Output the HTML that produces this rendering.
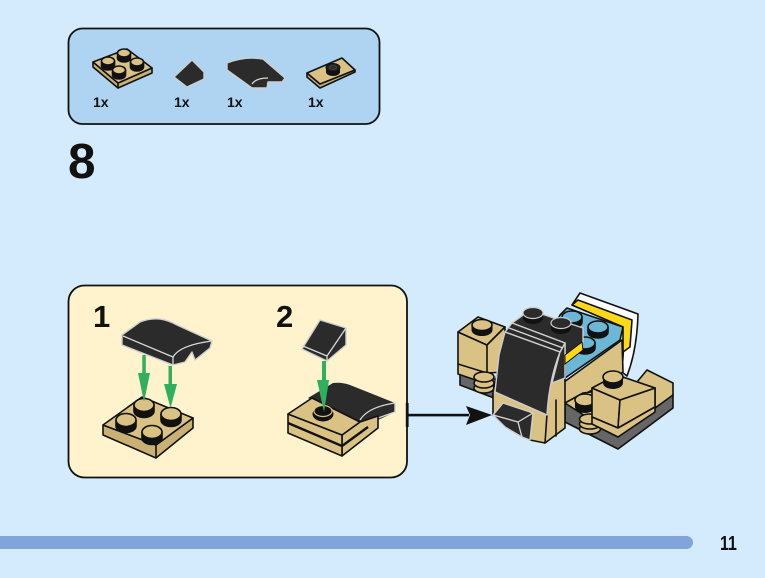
<!DOCTYPE html>
<html><head><meta charset="utf-8"><style>
html,body{margin:0;padding:0;background:#d3ebfd}
svg{display:block}
text{font-family:"Liberation Sans",sans-serif;font-weight:bold;fill:#111}
.k{stroke:#111;stroke-width:1.600;stroke-linejoin:round;stroke-linecap:round}
.t{fill:#d9c283}.d{fill:#c9b173}.b{fill:#2b2b2b}
.w{fill:none;stroke:#d8d8d8;stroke-width:1.300;stroke-linejoin:round}
.o{stroke:#cfcfcf;stroke-width:1.400;stroke-linejoin:round}
</style></head><body>
<svg width="765" height="578" viewBox="0 0 765 578" xmlns="http://www.w3.org/2000/svg">
<rect width="765" height="578" fill="#d3ebfd"/>
<!-- parts panel -->
<rect x="68.500" y="28.500" width="311" height="95.500" rx="14" fill="#aed4f2" stroke="#111" stroke-width="1.800"/>
<!-- part 1 -->
<polygon class="k d" points="93,62 118,83 152,68 152,73 118,88 93,67"/>
<polygon class="k t" points="93,62 127,49 152,68 118,83"/>
<line class="k" x1="118" y1="83" x2="118" y2="88"/>
<g class="k">
<path d="M101.500 61v5a6.500 4 0 0 0 13 0v-5z" fill="#111"/><ellipse cx="108" cy="61" rx="6.500" ry="4" class="t"/>
<path d="M117.500 53v5a6.500 4 0 0 0 13 0v-5z" fill="#111"/><ellipse cx="124" cy="53" rx="6.500" ry="4" class="t"/>
<path d="M130.500 62v5a6.500 4 0 0 0 13 0v-5z" fill="#111"/><ellipse cx="137" cy="62" rx="6.500" ry="4" class="t"/>
<path d="M112.500 70v5a6.500 4 0 0 0 13 0v-5z" fill="#111"/><ellipse cx="119" cy="70" rx="6.500" ry="4" class="t"/>
</g>
<!-- part 2 -->
<polygon class="b o" points="174,77 192,60 204,72 204,79 187,87"/>
<!-- part 3 -->
<path class="b o" d="M227 63Q245 56 263 59L285 78L282 82L268 82L267 88L252 88L227 70Z"/>
<path class="w" d="M252 84Q256 78 268 78"/>
<!-- part 4 -->
<polygon class="k d" points="307,73 320,84 355,70 355,72 320,88 307,77"/>
<polygon class="k t" points="307,73 342,58 355,70 320,84"/>
<path d="M326 68v4a7 4 0 0 0 14 0v-4z" fill="#111"/><ellipse cx="333" cy="67.500" rx="7" ry="4" fill="#222" stroke="#111"/><ellipse cx="333" cy="67.500" rx="3.500" ry="2" fill="#2b2b2b" stroke="#555" stroke-width=".6"/>
<text x="93" y="107" font-size="14">1x</text>
<text x="174" y="107" font-size="14">1x</text>
<text x="227" y="107" font-size="14">1x</text>
<text x="308" y="107" font-size="14">1x</text>
<text x="68" y="178" font-size="49.500">8</text>

<!-- step panel -->
<rect x="68.500" y="285.500" width="338.500" height="192" rx="16" fill="#fff3ce" stroke="#111" stroke-width="1.800"/>
<text x="93" y="327" font-size="31">1</text>
<text x="276" y="327" font-size="31">2</text>

<!-- step 1 plate -->
<polygon class="k d" points="103,425 156,445 193,418 193,428 156,458 103,435"/>
<polygon class="k t" points="103,425 142,397 193,418 156,445"/>
<line class="k" x1="156" y1="445" x2="156" y2="458"/>
<g class="k">
<path d="M134 405v6a10 6.500 0 0 0 20 0v-6z" fill="#111"/><ellipse cx="144" cy="405" rx="10" ry="6.500" class="t"/>
<path d="M161 414v6a10 6.500 0 0 0 20 0v-6z" fill="#111"/><ellipse cx="171" cy="414" rx="10" ry="6.500" class="t"/>
<path d="M116 420v6a10 6.500 0 0 0 20 0v-6z" fill="#111"/><ellipse cx="126" cy="420" rx="10" ry="6.500" class="t"/>
<path d="M142 432v6a10 6.500 0 0 0 20 0v-6z" fill="#111"/><ellipse cx="152" cy="432" rx="10" ry="6.500" class="t"/>
</g>
<!-- step 1 black part -->
<path class="b o" d="M122 335L140 322Q150 318 160 319Q168 320 177 325L212 341L210 348L195 360L192 352L185 362L173 365L122 345Z"/>
<path class="w" d="M123 336L173 357L173 365M173 357Q180 345 212 341"/>
<!-- arrows 1 -->
<g fill="#2fb05f">
<rect x="142.300" y="355" width="3.500" height="22"/><polygon points="138,373 150,373 144,402 "/>
<rect x="168.500" y="366" width="3.500" height="24"/><polygon points="164,384 177,384 170.500,408"/>
</g>

<!-- step 2 base -->
<path class="b" d="M308 398L333 383Q342 382 350 385L395 403L395 412L378 420L360 425Z"/>
<path class="w" d="M360 420Q368 407 395 403L395 412L378 418"/>
<polygon class="k t" points="360,422 378,416 378,428 342,456 342,435"/>
<polygon class="k t" points="288,414 342,435 342,456 288,433"/>
<polygon class="k t" points="288,414 312,398 360,422 342,435"/>
<path d="M288 423L342 446L368 427" fill="none" stroke="#111" stroke-width="2.400"/>
<ellipse cx="323" cy="414" rx="10.500" ry="7.500" fill="#111"/><ellipse cx="323" cy="411" rx="9" ry="5.500" fill="#111" stroke="#d9c283" stroke-width="1.200"/>
<!-- slope -->
<polygon class="b o" points="302,349 320,320 346,328 346,345 327,361"/>
<path class="w" d="M303 346L327 356L346 328M327 356V361"/>
<!-- arrow 2 -->
<g fill="#2fb05f"><rect x="322" y="361" width="4" height="24"/><polygon points="317,380 329,380 324,412"/></g>

<!-- connector -->
<rect x="405.800" y="403" width="2.800" height="24" fill="#111"/>
<rect x="407" y="413.800" width="62" height="2.600" fill="#111"/>
<polygon points="466,406 492,415 466,425 470,415" fill="#111"/>

<!-- model: white / yellow back -->
<path class="k" fill="#fff" d="M580 293L638 314Q637 350 627 376L622 372L625 327L572 305Z"/>
<polygon class="k" fill="#ffd915" points="572,305 578,300 632,320 630,347 623,352 623,327"/>
<polygon class="k t" points="560,385 622,340 623,372 607,382 565,405"/>
<polygon class="k" fill="#6db7d6" points="560,315 567,308 623,327 620,340 565,378 545,345"/>
<g class="k">
<path d="M562 317v5a10 6 0 0 0 20 0v-5z" fill="#111"/><ellipse cx="572" cy="317" rx="10" ry="6" fill="#6db7d6"/>
<path d="M588 327v5a10 6 0 0 0 20 0v-5z" fill="#111"/><ellipse cx="598" cy="327" rx="10" ry="6" fill="#6db7d6"/>
<path d="M575 343v5a10 6 0 0 0 20 0v-5z" fill="#111"/><ellipse cx="585" cy="343" rx="10" ry="6" fill="#6db7d6"/>
</g>
<!-- left block -->
<polygon fill="#666" class="k" points="460,372 460,385 494,398 500,380"/>
<polygon class="k t" points="458,332 487,345 490,385 458,374"/>
<polygon class="k t" points="458,332 478,317 505,327 487,345"/>
<polygon class="k t" points="487,345 505,327 505,372 487,373"/>
<line class="k" x1="458" y1="364" x2="487" y2="373"/>
<path d="M472 325v5a10 5.500 0 0 0 20 0v-5z" fill="#111" stroke="#111"/><ellipse cx="482" cy="325" rx="10" ry="5.500" class="t k"/>
<g class="k t"><ellipse cx="484" cy="388" rx="10" ry="5"/><ellipse cx="484" cy="383" rx="10" ry="5"/><ellipse cx="484" cy="377" rx="10" ry="5"/></g>
<!-- base right -->
<polygon fill="#666" class="k" points="565,403 618,437 673,394 673,408 618,449 565,422"/>
<polygon class="k t" points="565,403 583,393 650,385 618,437"/>
<polygon class="k t" points="647,370 673,383 673,395 655,408 655,388 637,382"/>
<g class="k t"><ellipse cx="590" cy="429" rx="10.500" ry="5"/><ellipse cx="590" cy="424" rx="10.500" ry="5"/><ellipse cx="590" cy="419" rx="10.500" ry="5"/></g>
<path d="M575 401v6a10 6 0 0 0 20 0v-6z" fill="#111"/><ellipse cx="585" cy="400" rx="10" ry="6" class="t k"/>
<polygon class="k t" points="592,388 620,400 618,428 592,417"/>
<polygon class="k t" points="620,400 655,388 655,407 618,428"/>
<polygon class="k t" points="592,388 607,380 623,377 655,388 620,400"/>
<polygon class="k t" points="592,417 618,428 655,407 655,412 618,437 592,424"/>
<path d="M603 377v6a10 6 0 0 0 20 0v-6z" fill="#111"/><ellipse cx="613" cy="377" rx="10" ry="6" class="t k"/>
<!-- centre tan -->
<polygon class="k t" points="493,392 505,340 565,340 565,428 545,443 530,440 493,415"/>
<line class="k" x1="556" y1="400" x2="556" y2="436"/>
<line class="k" x1="547" y1="414" x2="545" y2="443"/>
<!-- black body -->
<polygon class="b o" points="512,323 530,310 583,328 583,342 565,356 565,343"/>
<polygon class="b o" points="560,352 565,343 565,378 552,383"/>
<polygon fill="#ffd915" stroke="#111" points="565,355 582,342 583,350 565,364"/>
<path d="M523 313v5a10 6 0 0 0 20 0v-5z" fill="#111"/><ellipse cx="533" cy="313" rx="10" ry="5.500" fill="#2b2b2b" stroke="#ccc" stroke-width="1.200"/>
<path d="M551 323v5a10 6 0 0 0 20 0v-5z" fill="#111"/><ellipse cx="561" cy="323" rx="10" ry="5.500" fill="#2b2b2b" stroke="#ccc" stroke-width="1.200"/>
<polygon class="b o" points="512,323 505,332 560,352 565,343"/>
<path class="b o" d="M505 332L560 352Q549 380 547 415L495 392L499 355Z"/>
<path class="w" d="M509 328L563 348"/>
<polygon class="b o" points="493,415 503,403 533,413 530,440 522,437 505,427"/>
<path class="w" d="M493 415L518 422L533 413M518 422Q520 430 522 437"/>

<!-- footer -->
<rect x="-10" y="536" width="703" height="13" rx="6.500" fill="#81a5d8"/>
<text transform="translate(720,550) scale(.8,1)" font-size="20">11</text>
</svg>
</body></html>
